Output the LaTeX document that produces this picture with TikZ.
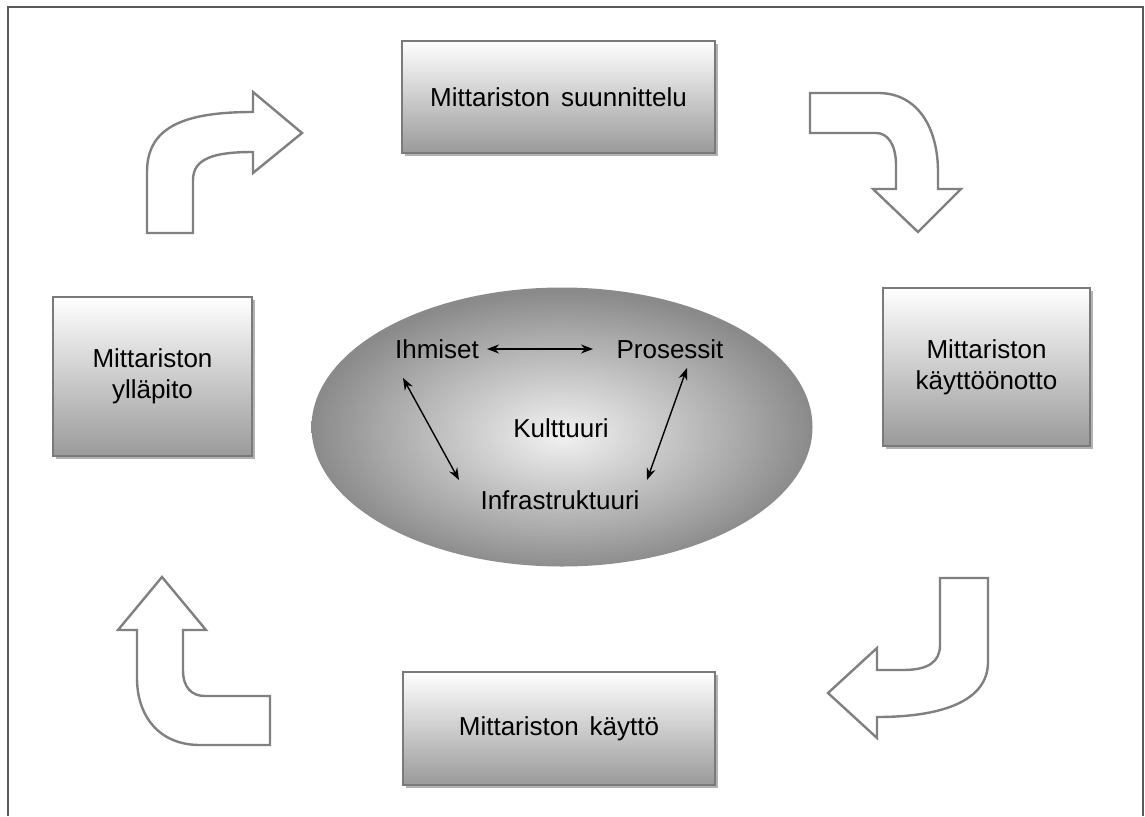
\documentclass[tikz,border=0pt]{standalone}
\usepackage{fontspec}
\setmainfont{Liberation Sans}
\usetikzlibrary{arrows.meta,shadows,calc,shapes.geometric}

\definecolor{framegray}{HTML}{5A5A5A}
\definecolor{boxline}{HTML}{7A7A7A}
\definecolor{boxbottom}{HTML}{9A9A9A}
\definecolor{bentline}{HTML}{808080}
\definecolor{ellA}{HTML}{F2F2F2}
\definecolor{ellB}{HTML}{CDCDCD}
\definecolor{ellC}{HTML}{A8A8A8}
\definecolor{ellD}{HTML}{8A8A8A}

% light centre fading to grey towards the rim of the ellipse
\pgfdeclareradialshading{culture}{\pgfpoint{0bp}{-1.5bp}}{%
  color(0bp)=(ellA); color(9bp)=(ellB); color(18bp)=(ellC);
  color(25bp)=(ellD); color(50bp)=(ellD)}

\tikzset{
  stage/.style={draw=boxline, line width=1.3pt, top color=white,
    bottom color=boxbottom, inner sep=0pt, align=center, text=black,
    font=\fontsize{26}{31}\selectfont,
    drop shadow={shadow xshift=3pt, shadow yshift=-3pt, fill=black!30, opacity=1}},
  bent/.style={draw=bentline, line width=2.4pt, fill=white, line join=miter},
  factor/.style={inner sep=0pt, text=black, font=\fontsize{26}{31}\selectfont},
  link/.style={black, line width=1.4pt,
    {Stealth[length=12pt,width=9pt]}-{Stealth[length=12pt,width=9pt]}},
}

\begin{document}
\begin{tikzpicture}[x=1pt,y=-1pt]
\useasboundingbox (0,0) rectangle (1145,816);

% outer frame
\draw[framegray, line width=2pt] (8,816) -- (8,7) -- (1143,7) -- (1143,816);

% four stages of the cycle
\node[stage, minimum width=313pt, minimum height=112pt] (plan) at (558.5,97)
  {Mittariston\hspace{0.42em}suunnittelu};
\node[stage, minimum width=207pt, minimum height=158pt] (deploy) at (986.5,367)
  {Mittariston\\käyttöönotto};
\node[stage, minimum width=312pt, minimum height=113pt] (use) at (559,728.5)
  {Mittariston\hspace{0.42em}käyttö};
\node[stage, minimum width=199pt, minimum height=159pt] (maint) at (152.5,376.5)
  {Mittariston\\ylläpito};

% centre: culture and its three factors
\node[ellipse, minimum width=501pt, minimum height=279pt, inner sep=0pt,
  shading=culture] (cult) at (562,427) {};
\node[factor] (kult) at (561,428) {Kulttuuri};
\node[factor] (ihm) at (437,349) {Ihmiset};
\node[factor] (pro) at (670,349) {Prosessit};
\node[factor] (inf) at (560,500) {Infrastruktuuri};

\draw[link] ($(ihm.center)+(50,0)$) -- ($(pro.center)+(-77,0)$);
\draw[link] ($(ihm.center)+(-34,29)$) -- ($(inf.center)+(-101,-20)$);
\draw[link] ($(pro.center)+(17,19)$) -- ($(inf.center)+(87,-20)$);

% bent arrows between the stages
\draw[bent] (147,233) -- (147,172) .. controls (147,128) and (182,112) .. (253,112)
  -- (253,92) -- (302,133) -- (253,173) -- (253,152)
  .. controls (215,152) and (193,158) .. (193,180) -- (193,233) -- cycle;

\draw[bent] (810,93) -- (878,93) .. controls (918,93) and (938,128) .. (938,172)
  -- (938,189) -- (961,189) -- (918,232) -- (873,189) -- (896,189) -- (896,165)
  .. controls (896,145) and (888,133) .. (876,133) -- (810,133) -- cycle;

\draw[bent] (988,578) -- (988,662) .. controls (988,702) and (940,717) .. (877,717)
  -- (877,738) -- (828,693) -- (877,648) -- (877,670) -- (903,670)
  .. controls (928,670) and (940,662) .. (940,645) -- (940,578) -- cycle;

\draw[bent] (162,577) -- (206,630) -- (183,630) -- (183,670)
  .. controls (183,688) and (192,696) .. (205,696) -- (270,696) -- (270,745)
  -- (200,745) .. controls (158,745) and (137,715) .. (137,678) -- (137,630)
  -- (118,630) -- cycle;
\end{tikzpicture}
\end{document}
